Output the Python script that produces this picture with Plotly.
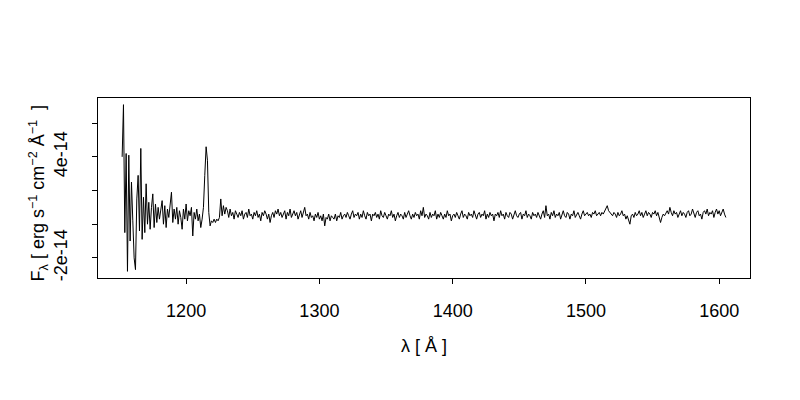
import plotly.graph_objects as go

# Spectrum: flux in units of 1e-14 erg s^-1 cm^-2 A^-1, sampled every 1 A from 1152 A
wave_start = 1152
wave_step = 1.0
flux_e14 = [
    # 1152-1230 (noisy blue end + geocoronal Ly-alpha)
    4.0, 7.1, -0.5, 4.2, -2.8, 4.1, -1.0, 2.5, 0.2, -2.0,
    -2.7, 1.5, 2.9, -0.4, 4.5, -0.9, 1.6, -0.5, 2.4, 0.0,
    1.3, -0.3, 1.0, 1.8, -0.2, 1.2, 0.1, 1.0, 0.3, 0.8,
    1.4, 0.0, 1.1, -0.2, 0.9, 0.4, 1.2, 1.9, 0.1, 0.9,
    0.3, 1.0, 0.0, 0.8, 0.4, -0.3, 0.9, 0.3, 1.2, 0.2,
    0.8, 0.5, 1.0, -0.7, 0.7, 0.3, 0.9, 0.2, 0.6, -0.2,
    0.3, 1.0, 2.9, 4.6, 3.8, 0.7, -0.1, 0.2, 0.1, 0.3,
    0.1, 0.3, 0.2, 0.4, 1.5, 0.5, 1.1, 0.6, 1.0,
    # 1231-1300
    0.8, 0.4, 0.9, 0.5, 0.7, 0.3, 0.8, 0.6, 0.4, 0.7,
    0.5, 0.8, 0.3, 0.6, 0.7, 0.4, 0.9, 0.5, 0.6, 0.3,
    0.7, 0.5, 0.8, 0.4, 0.6, 0.2, 0.7, 0.5, 0.8, 0.6,
    0.3, 0.6, 0.1, 0.5, 0.7, 0.4, 0.8, 0.6, 0.9, 0.5,
    0.7, 0.4, 0.6, 0.8, 0.3, 0.7, 0.5, 0.9, 0.4, 0.6,
    0.8, 0.5, 0.7, 0.3, 0.6, 0.8, 0.4, 0.7, 1.0, 0.5,
    0.6, 0.3, 0.7, 0.4, 0.5, 0.2, 0.6, 0.4, 0.7, 0.3,
    # 1301-1400
    0.5, 0.2, 0.6, -0.1, 0.4, 0.3, 0.6, 0.2, 0.5, 0.4,
    0.3, 0.6, 0.2, 0.5, 0.4, 0.7, 0.3, 0.5, 0.6, 0.4,
    0.7, 0.5, 0.3, 0.6, 0.8, 0.4, 0.6, 0.5, 0.7, 0.3,
    0.6, 0.4, 0.8, 0.5, 0.3, 0.7, 0.5, 0.6, 0.2, 0.6,
    0.5, 0.7, 0.4, 0.6, 0.3, 0.8, 0.5, 0.4, 0.7, 0.5,
    0.3, 0.6, 0.5, 0.8, 0.4, 0.6, 0.2, 0.5, 0.7, 0.4,
    0.6, 0.5, 0.3, 0.7, 0.4, 0.6, 0.8, 0.5, 0.3, 0.6,
    0.4, 0.7, 0.5, 0.6, 0.3, 0.8, 0.5, 1.0, 0.4, 0.6,
    0.5, 0.3, 0.7, 0.4, 0.6, 0.5, 0.8, 0.3, 0.6, 0.4,
    0.7, 0.5, 0.3, 0.6, 0.4, 0.8, 0.5, 0.6, 0.2, 0.5,
    # 1401-1500
    0.6, 0.4, 0.7, 0.5, 0.3, 0.6, 0.8, 0.4, 0.6, 0.5,
    0.3, 0.7, 0.5, 0.6, 0.4, 0.8, 0.5, 0.3, 0.6, 0.7,
    0.4, 0.6, 0.5, 0.8, 0.3, 0.6, 0.4, 0.7, 0.5, 0.6,
    0.2, 0.6, 0.5, 0.7, 0.4, 0.8, 0.5, 0.6, 0.3, 0.7,
    0.5, 0.4, 0.7, 0.6, 0.3, 0.6, 0.8, 0.5, 0.4, 0.6,
    0.7, 0.3, 0.6, 0.5, 0.8, 0.4, 0.6, 0.5, 0.3, 0.7,
    0.5, 0.6, 0.4, 0.7, 0.5, 0.3, 0.6, 0.8, 0.4, 1.1,
    0.5, 0.6, 0.3, 0.7, 0.5, 0.8, 0.4, 0.6, 0.5, 0.7,
    0.3, 0.6, 0.8, 0.5, 0.4, 0.7, 0.6, 0.3, 0.6, 0.5,
    0.8, 0.4, 0.6, 0.7, 0.5, 0.3, 0.6, 0.8, 0.5, 0.6,
    # 1501-1605
    0.7, 0.5, 0.6, 0.4, 0.7, 0.6, 0.8, 0.5, 0.6, 0.7,
    0.5, 0.7, 0.6, 0.8, 0.9, 1.1, 0.8, 0.7, 0.6, 0.5,
    0.7, 0.6, 0.4, 0.7, 0.5, 0.6, 0.8, 0.5, 0.6, 0.3,
    0.5, 0.2, 0.0, 0.5, 0.6, 0.4, 0.7, 0.5, 0.6, 0.8,
    0.5, 0.7, 0.4, 0.6, 0.8, 0.5, 0.7, 0.6, 0.4, 0.7,
    0.6, 0.8, 0.5, 0.7, 0.3, 0.1, 0.4, 0.6, 0.5, 0.7,
    0.8, 0.6, 1.0, 0.7, 0.5, 0.8, 0.6, 0.7, 0.4, 0.6,
    0.8, 0.5, 0.7, 0.6, 0.4, 0.7, 0.8, 0.5, 0.6, 0.9,
    0.6, 0.4, 0.7, 0.8, 0.5, 0.6, 0.3, 0.7, 0.8, 0.6,
    0.9, 0.5, 0.7, 0.6, 0.8, 0.4, 0.7, 0.9, 0.6, 0.8,
    0.5, 0.7, 0.9, 0.6, 0.4,
]

x_tick_vals = [1200, 1300, 1400, 1500, 1600]
y_tick_vals = [-2e-14, 0, 2e-14, 4e-14, 6e-14]
y_tick_text = ["-2e-14", "", "", "4e-14", ""]

wavelength = [wave_start + i * wave_step for i in range(len(flux_e14))]
flux = [v * 1e-14 for v in flux_e14]

FONT = "Liberation Sans, Arial, Helvetica, sans-serif"
FS = 18

fig = go.Figure()
fig.add_trace(go.Scatter(
    x=wavelength, y=flux, mode="lines",
    line=dict(color="black", width=1),
    showlegend=False, hoverinfo="skip",
))

# R-style 4% padding around the data range
xmin, xmax = min(wavelength), max(wavelength)
ymin, ymax = min(flux), max(flux)
xpad = 0.04 * (xmax - xmin)
ypad = 0.04 * (ymax - ymin)

NB = "\u00a0"
ytitle = ("F<sub>λ</sub>" + NB + "[" + NB + "erg" + NB + "s<sup>−1</sup>" + NB
          + "cm<sup>−2</sup>" + NB + "Å<sup>−1</sup>" + NB + NB + "]")

fig.update_layout(
    width=800, height=400,
    margin=dict(l=90, r=58, t=90, b=130),
    paper_bgcolor="white", plot_bgcolor="white",
    font=dict(family=FONT, size=FS, color="black"),
    xaxis=dict(
        range=[xmin - xpad, xmax + xpad],
        tickvals=x_tick_vals, ticks="outside", ticklen=5, tickcolor="black",
        showline=True, linecolor="black", linewidth=1, mirror=True,
        showgrid=False, zeroline=False, ticklabelstandoff=11,
        tickfont=dict(family=FONT, size=FS, color="black"),
    ),
    yaxis=dict(
        range=[ymin - ypad, ymax + ypad],
        tickvals=y_tick_vals, ticktext=y_tick_text,
        ticks="outside", ticklen=5, tickcolor="black", tickangle=-90,
        showline=True, linecolor="black", linewidth=1, mirror=True,
        showgrid=False, zeroline=False, ticklabelstandoff=18,
        tickfont=dict(family=FONT, size=FS, color="black"),
    ),
    annotations=[
        dict(text="λ" + NB + "[" + NB + "Å" + NB + "]", xref="paper", yref="paper",
             x=0.5, y=-0.375,
             xanchor="center", yanchor="middle", showarrow=False,
             font=dict(family=FONT, size=FS, color="black")),
        dict(text=ytitle,
             xref="paper", yref="paper", x=-0.092, y=0.47, textangle=-90,
             xanchor="center", yanchor="middle", showarrow=False,
             font=dict(family=FONT, size=FS, color="black")),
    ],
)

fig.write_html("out.html")
